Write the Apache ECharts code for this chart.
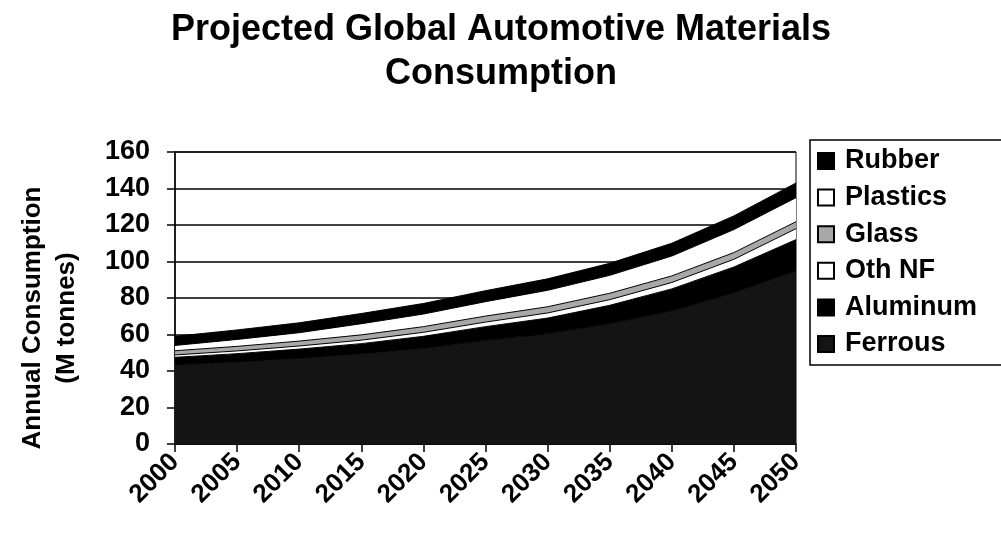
<!DOCTYPE html>
<html><head><meta charset="utf-8">
<script src="https://cdn.jsdelivr.net/npm/echarts@6/dist/echarts.min.js"></script>
<style>html,body{margin:0;padding:0;background:#fff}#c{width:1001px;height:545px}</style>
</head><body><div id="c"></div>
<script>
const years = ['2000','2005','2010','2015','2020','2025','2030','2035','2040','2045','2050'];
const ferrous  = [43.5, 45, 47, 49.5, 52.5, 56.8, 60.5, 66, 73, 83, 95];
const aluminum = [4, 4.5, 5, 5.5, 6.5, 7.5, 8.5, 10, 12, 14, 17];
const othNF    = [1.3, 1.5, 1.7, 1.9, 2.2, 2.5, 2.8, 3.1, 3.5, 4.2, 6];
const glass    = [2.3, 2.5, 2.7, 2.9, 3.1, 3.3, 3.4, 3.5, 3.6, 3.7, 3.8];
const plastics = [2.9, 3.8, 4.6, 6.1, 6.9, 7.9, 9, 9.8, 10.9, 12.6, 13.2];
const rubber   = [5, 5.2, 5.4, 5.6, 5.8, 6, 6.3, 6.6, 7, 7.5, 8];
const yTicks = [0, 20, 40, 60, 80, 100, 120, 140, 160];

const FONT = '"Liberation Sans", Arial, sans-serif';
const chart = echarts.init(document.getElementById('c'), null, {renderer: 'canvas'});

function ser(name, data, color) {
  return {
    name: name, type: 'line', stack: 'total', data: data,
    symbol: 'none', smooth: false,
    lineStyle: {color: '#000', width: 1},
    areaStyle: {color: color, opacity: 1},
    itemStyle: {color: color, borderColor: '#000', borderWidth: 1.2},
    emphasis: {disabled: true}
  };
}

chart.setOption({
  animation: false,
  backgroundColor: '#fff',
  title: {
    text: 'Projected Global Automotive Materials\nConsumption',
    left: 496, top: 3, textAlign: 'center',
    textStyle: {fontFamily: FONT, fontWeight: 'bold', fontSize: 36, lineHeight: 44, color: '#000'}
  },
  legend: {
    orient: 'vertical', left: 810, top: 140,
    data: ['Rubber','Plastics','Glass','Oth NF','Aluminum','Ferrous'],
    itemWidth: 16, itemHeight: 16, itemGap: 6.6,
    borderColor: '#000', borderWidth: 1.5, padding: [6, 30, 6, 7],
    icon: 'rect',
    textStyle: {fontFamily: FONT, fontWeight: 'bold', fontSize: 27, lineHeight: 30, color: '#000', padding: [0,0,0,6]}
  },
  grid: {left: 175, right: 205, top: 152, bottom: 101, show: true, borderColor: '#000', borderWidth: 1,
    containLabel: false, outerBoundsMode: 'none'},
  xAxis: {
    type: 'category', data: years, boundaryGap: false,
    axisLine: {lineStyle: {color: '#000', width: 1.5}},
    axisTick: {show: true, length: 8, lineStyle: {color: '#000', width: 1.5}, alignWithLabel: true},
    axisLabel: {rotate: 45, fontFamily: FONT, fontWeight: 'bold', fontSize: 26, color: '#000', margin: 14, interval: 0}
  },
  yAxis: {
    type: 'value', min: 0, max: 160, interval: 20,
    name: 'Annual Consumption\n(M tonnes)', nameLocation: 'middle', nameGap: 91,
    nameTextStyle: {fontFamily: FONT, fontWeight: 'bold', fontSize: 26, lineHeight: 34, color: '#000', padding: [0, 40, 0, 0]},
    axisLine: {show: true, lineStyle: {color: '#000', width: 1.5}},
    axisTick: {show: true, length: 8, lineStyle: {color: '#000', width: 1.5}},
    axisLabel: {fontFamily: FONT, fontWeight: 'bold', fontSize: 27, color: '#000', margin: 25,
      formatter: v => yTicks.includes(v) ? String(v) : ''},
    splitLine: {show: true, lineStyle: {color: '#000', width: 1.5}}
  },
  series: [
    ser('Ferrous', ferrous, '#141414'),
    ser('Aluminum', aluminum, '#000000'),
    ser('Oth NF', othNF, '#ffffff'),
    ser('Glass', glass, '#a8a8a8'),
    ser('Plastics', plastics, '#ffffff'),
    ser('Rubber', rubber, '#000000')
  ]
});
</script>
</body></html>
